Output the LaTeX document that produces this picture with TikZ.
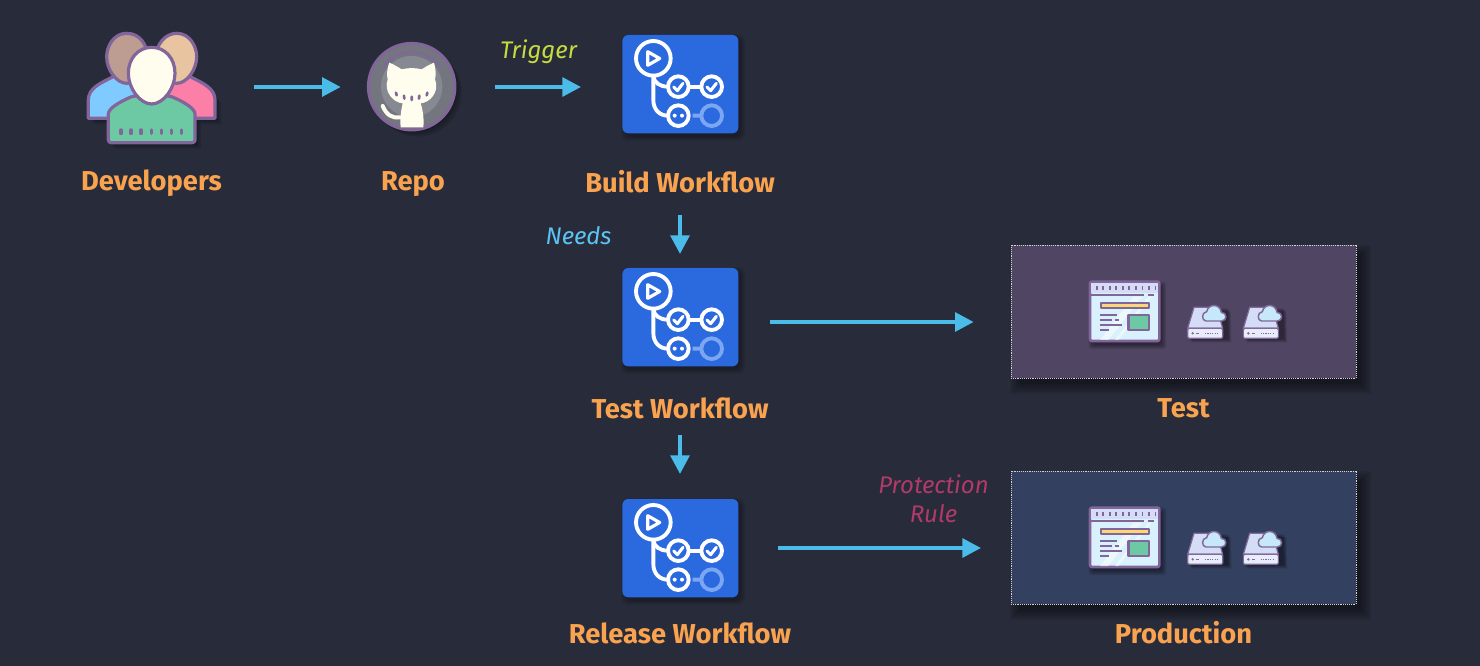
\documentclass[tikz,border=0pt]{standalone}
\usepackage{fontspec}
\setmainfont{Fira Sans}
\usetikzlibrary{arrows.meta}
\definecolor{bgc}{HTML}{282C3A}
\definecolor{orangec}{HTML}{F9A24F}
\definecolor{arrowc}{HTML}{4BBCE9}
\definecolor{trigc}{HTML}{C6DC3E}
\definecolor{needc}{HTML}{5CC4F2}
\definecolor{protc}{HTML}{B03A68}
\definecolor{purp}{HTML}{82659A}
\definecolor{cream}{HTML}{FFFDEE}
\definecolor{flowb}{HTML}{2B69DF}
\definecolor{flowl}{HTML}{7AA6F2}
\definecolor{envt}{HTML}{504664}
\definecolor{envp}{HTML}{34405F}
\definecolor{HTMLbl}{HTML}{7FCBFF}
\definecolor{HTMLpk}{HTML}{FB7FA6}
\definecolor{HTMLbr}{HTML}{BD9C92}
\definecolor{HTMLta}{HTML}{E8C4A0}
\definecolor{HTMLgr}{HTML}{6CC9A3}
\definecolor{HTMLgy}{HTML}{74767F}
\definecolor{HTMLgl}{HTML}{868892}
\definecolor{HTMLsd}{HTML}{7F6A9A}
\definecolor{HTMLs1}{HTML}{D5DCF5}
\definecolor{HTMLs2}{HTML}{E9ECFB}
\definecolor{HTMLcl}{HTML}{C7E8FB}
\definecolor{HTMLwi}{HTML}{D9F1FC}
\definecolor{HTMLye}{HTML}{FBD777}
\tikzset{
  anchorbox/.style={inner sep=0pt,outer sep=0pt,draw=none},
  lbl/.style={inner sep=0pt,text=orangec,font=\fontsize{20.5pt}{24pt}\selectfont\bfseries},
  note/.style={inner sep=0pt,font=\fontsize{18pt}{21pt}\selectfont\itshape,align=center},
  flow/.style={draw=arrowc,line width=3pt,-{Triangle[length=14pt,width=14pt]}},
  envbox/.style={anchorbox,draw=white!65!gray,dash pattern=on .7pt off .7pt,line width=.7pt,minimum width=258.75pt,minimum height=99.75pt},
  soft/.style={fill=black,opacity=.08,draw=none},
  flowicon/.pic={
    \begin{scope}[x=.25pt,y=-.25pt]
      \foreach \g in {0,4,8,12}{
        \fill[soft,rounded corners=5pt] (37+8-\g,30+10-\g) rectangle (385+8+\g,325+10+\g);}
      \fill[flowb,rounded corners=4.5pt] (37,30) rectangle (385,325);
      \begin{scope}[draw=white,line width=2.9pt,line cap=round]
        \draw (130,100) circle (52);
        \draw[line join=round,line width=2.4pt] (113,80) -- (113,121) -- (149,100.5) -- cycle;
        \draw (130,152) .. controls (130,172) and (150,185) .. (173,185);
        \draw (130,152) -- (130,225) .. controls (130,255) and (150,272) .. (173,272);
        \draw (237,185) -- (272,185);
        \draw (205,185) circle (31);
        \draw (305,185) circle (31);
        \draw (205,272) circle (31);
        \draw[line width=2.3pt,line join=round] (191,186) -- (202,197) -- (219,175);
        \draw[line width=2.3pt,line join=round] (291,186) -- (302,197) -- (319,175);
      \end{scope}
      \fill[white] (194,272) circle (6) (216,272) circle (6);
      \draw[flowl,line width=2.9pt] (305,272) circle (31) (248,272) -- (272,272);
    \end{scope}
  },
  devicon/.pic={
    \begin{scope}[x=.25pt,y=-.25pt,draw=purp,line width=2.4pt,line join=round]
      \foreach \g in {6,12,18}{
        \fill[soft,opacity=.13] (55+\g,295+\g) -- (55+\g,230+\g) -- (130+\g,170+\g) -- (245+\g,120+\g) -- (360+\g,170+\g) -- (435+\g,230+\g) -- (435+\g,295+\g) -- (375+\g,295+\g) -- (375+\g,368+\g) -- (115+\g,368+\g) -- (115+\g,295+\g) -- cycle;}
      \filldraw[fill=HTMLbl] (55,295) -- (55,240) .. controls (55,205) and (90,190) .. (130,170) -- (200,170) -- (200,295) -- cycle;
      \filldraw[fill=HTMLpk] (435,295) -- (435,240) .. controls (435,205) and (400,190) .. (360,170) -- (290,170) -- (290,295) -- cycle;
      \filldraw[fill=HTMLbr] (170,40) .. controls (130,40) and (110,80) .. (110,110) .. controls (110,150) and (140,190) .. (170,190) .. controls (205,190) and (232,150) .. (232,110) .. controls (232,75) and (210,40) .. (170,40) -- cycle;
      \filldraw[fill=HTMLta] (320,40) .. controls (285,40) and (258,75) .. (258,110) .. controls (258,150) and (285,190) .. (320,190) .. controls (350,190) and (380,150) .. (380,110) .. controls (380,80) and (360,40) .. (320,40) -- cycle;
      \filldraw[fill=HTMLgr,rounded corners=2pt] (115,368) -- (115,290) .. controls (115,265) and (150,245) .. (190,228) -- (300,228) .. controls (340,245) and (375,265) .. (375,290) -- (375,368) -- cycle;
      \filldraw[fill=cream] (245,82) .. controls (205,82) and (175,115) .. (175,160) .. controls (175,205) and (210,252) .. (245,252) .. controls (280,252) and (315,205) .. (315,160) .. controls (315,115) and (285,82) .. (245,82) -- cycle;
      \foreach \k in {0,...,6}{
        \draw[line width=2.6pt,line cap=round] (153+\k*30.3,330) -- (153+\k*30.3,340);}
    \end{scope}
  },
  repoicon/.pic={
    \begin{scope}[x=.25pt,y=-.25pt]
      \foreach \g in {6,12,18}{
        \fill[soft,opacity=.13] (1025+\g,200+\g) circle (132);}
      \filldraw[fill=HTMLgy,draw=purp,line width=2.2pt] (1025,200) circle (130);
      \fill[HTMLgl] (1025,200) circle (92);
      \draw[purp,line width=1.6pt] (940,140) arc (215:325:104);
      \fill[cream] (958,128) .. controls (975,135) and (985,142) .. (995,148) .. controls (1015,143) and (1035,143) .. (1055,148) .. controls (1065,142) and (1075,135) .. (1092,128) .. controls (1098,150) and (1098,165) .. (1095,178) .. controls (1110,215) and (1080,248) .. (1052,250) .. controls (1060,275) and (1062,300) .. (1060,322) -- (992,322) .. controls (990,300) and (992,275) .. (998,250) .. controls (970,248) and (940,215) .. (953,178) .. controls (950,165) and (950,150) .. (958,128) -- cycle;
      \draw[cream,line width=3pt,line cap=round] (938,258) .. controls (950,285) and (965,295) .. (990,292);
      \draw[purp,line width=2pt,line cap=round] (978,218) -- (980,226) (1002,227) -- (1003,236) (1025,230) -- (1025,240) (1048,227) -- (1047,236) (1072,218) -- (1070,226);
    \end{scope}
  },
  servericon/.pic={
    \begin{scope}[x=.25pt,y=-.25pt,draw=HTMLsd,line width=.9pt,line join=round]
      \foreach \g in {3,6,9,12}{
        \fill[soft,opacity=.13] (342+\g,97+\g) -- (440+\g,97+\g) -- (442+\g,190+\g) -- (323+\g,190+\g) -- cycle;}
      \filldraw[fill=HTMLs1] (342,97) -- (410,97) -- (428,160) -- (323,160) -- cycle;
      \filldraw[fill=HTMLs2,rounded corners=1pt] (323,160) rectangle (428,190);
      \fill[HTMLsd] (338,175) circle (4);
      \draw[line width=.7pt] (348,175) -- (358,175);
      \draw[line width=1.2pt,dash pattern=on .9pt off .9pt] (375,175) -- (418,175);
      \filldraw[fill=HTMLcl,line width=1.1pt] (378,138) .. controls (365,138) and (363,112) .. (380,110) .. controls (385,85) and (420,85) .. (424,112) .. controls (442,112) and (442,138) .. (425,138) -- cycle;
    \end{scope}
  },
  envicons/.pic={
    \begin{scope}[x=.25pt,y=-.25pt,draw=purp,line join=round]
      \foreach \g in {0,4,8,12}{
        \fill[soft,opacity=.12,rounded corners=2pt] (30+8-\g,20+12-\g) rectangle (238+8+\g,198+12+\g);}
      \filldraw[fill=HTMLwi,line width=2pt,rounded corners=1.5pt] (30,20) rectangle (238,198);
      \fill[white,opacity=.55] (60,195) -- (160,65) -- (185,65) -- (85,195) -- cycle (105,195) -- (205,65) -- (215,65) -- (115,195) -- cycle;
      \fill[HTMLs1] (33,23) rectangle (235,54);
      \draw[line width=1.5pt] (33,60) -- (193,60) (205,60) -- (222,60);
      \foreach \k in {0,...,9}{
        \draw[line width=1.3pt] (50+\k*19.6,34) -- (50+\k*19.6,46);}
      \filldraw[fill=HTMLye,line width=1.5pt] (62,84) rectangle (206,100);
      \draw[line width=1.5pt] (60,120) -- (112,120) (60,135) -- (96,135) (106,135) -- (118,135) (60,150) -- (126,150) (60,165) -- (88,165);
      \filldraw[fill=HTMLgr,line width=2pt] (145,120) rectangle (207,165);
    \end{scope}
    \pic at (0,0) {servericon};
    \pic at (55.67,0) {servericon};
  }
}
\begin{document}
\begin{tikzpicture}[x=.75pt,y=-.75pt]
\useasboundingbox (0,0) rectangle (1480,666);
\fill[bgc] (0,0) rectangle (1480,666);
% anchors for connectors
\node[anchorbox,minimum width=96pt,minimum height=84pt] (dev) at (151,87) {};
\node[anchorbox,minimum width=67.5pt,minimum height=67.5pt] (repo) at (411.7,87) {};
\node[anchorbox,minimum width=87pt,minimum height=74.25pt] (build) at (680,84.5) {};
\node[anchorbox,minimum width=87pt,minimum height=74.25pt] (testwf) at (680,317.5) {};
\node[anchorbox,minimum width=87pt,minimum height=74.25pt] (relwf) at (680,548.5) {};
% environment boxes
\foreach \g in {-2,0,2,4,6,8}{
  \fill[soft] (1011+7-\g,245+8-\g) rectangle (1356+7+\g,378+8+\g);
  \fill[soft] (1011+7-\g,471+8-\g) rectangle (1356+7+\g,604+8+\g);}
\node[envbox,fill=envt] (testenv) at (1183.5,311.5) {};
\node[envbox,fill=envp] (prodenv) at (1183.5,537.5) {};
% icons
\pic at (70,20) {devicon};
\pic at (70,20) {repoicon};
\pic at (610,25) {flowicon};
\pic at (610,258) {flowicon};
\pic at (610,489) {flowicon};
\pic at (1080,275) {envicons};
\pic at (1080,501) {envicons};
% labels
\node[lbl] (l1) at (151.5,183) {Developers};
\node[lbl] (l2) at (413,184) {Repo};
\node[lbl] (l3) at (680,182) {Build Workflow};
\node[lbl] (l4) at (680,408) {Test Workflow};
\node[lbl] (l5) at (680,633) {Release Workflow};
\node[lbl] (l6) at (1183.5,408) {Test};
\node[lbl] (l7) at (1183.5,633) {Production};
\node[note,text=trigc] (n1) at (538.5,52) {Trigger};
\node[note,text=needc] (n2) at (578.5,236) {Needs};
\node[note,text=protc] (n3) at (933.5,498.5) {Protection\\[1pt]Rule};
% connectors
\draw[flow] ([xshift=29.25pt]dev.east) -- ([xshift=-19.5pt]repo.west);
\draw[flow] ([xshift=28.5pt]repo.east) -- ([xshift=-30.75pt,yshift=-1.875pt]build.west);
\draw[flow] ([yshift=-60.75pt]build.south) -- ([yshift=10.5pt]testwf.north);
\draw[flow] ([xshift=24pt,yshift=-3.375pt]testwf.east) -- ([xshift=-28pt,yshift=-7.875pt]testenv.west);
\draw[flow] ([yshift=-51pt]testwf.south) -- ([yshift=18.75pt]relwf.north);
\draw[flow] ([xshift=30pt,yshift=.375pt]relwf.east) -- ([xshift=-22.5pt,yshift=-7.875pt]prodenv.west);
\end{tikzpicture}
\end{document}
